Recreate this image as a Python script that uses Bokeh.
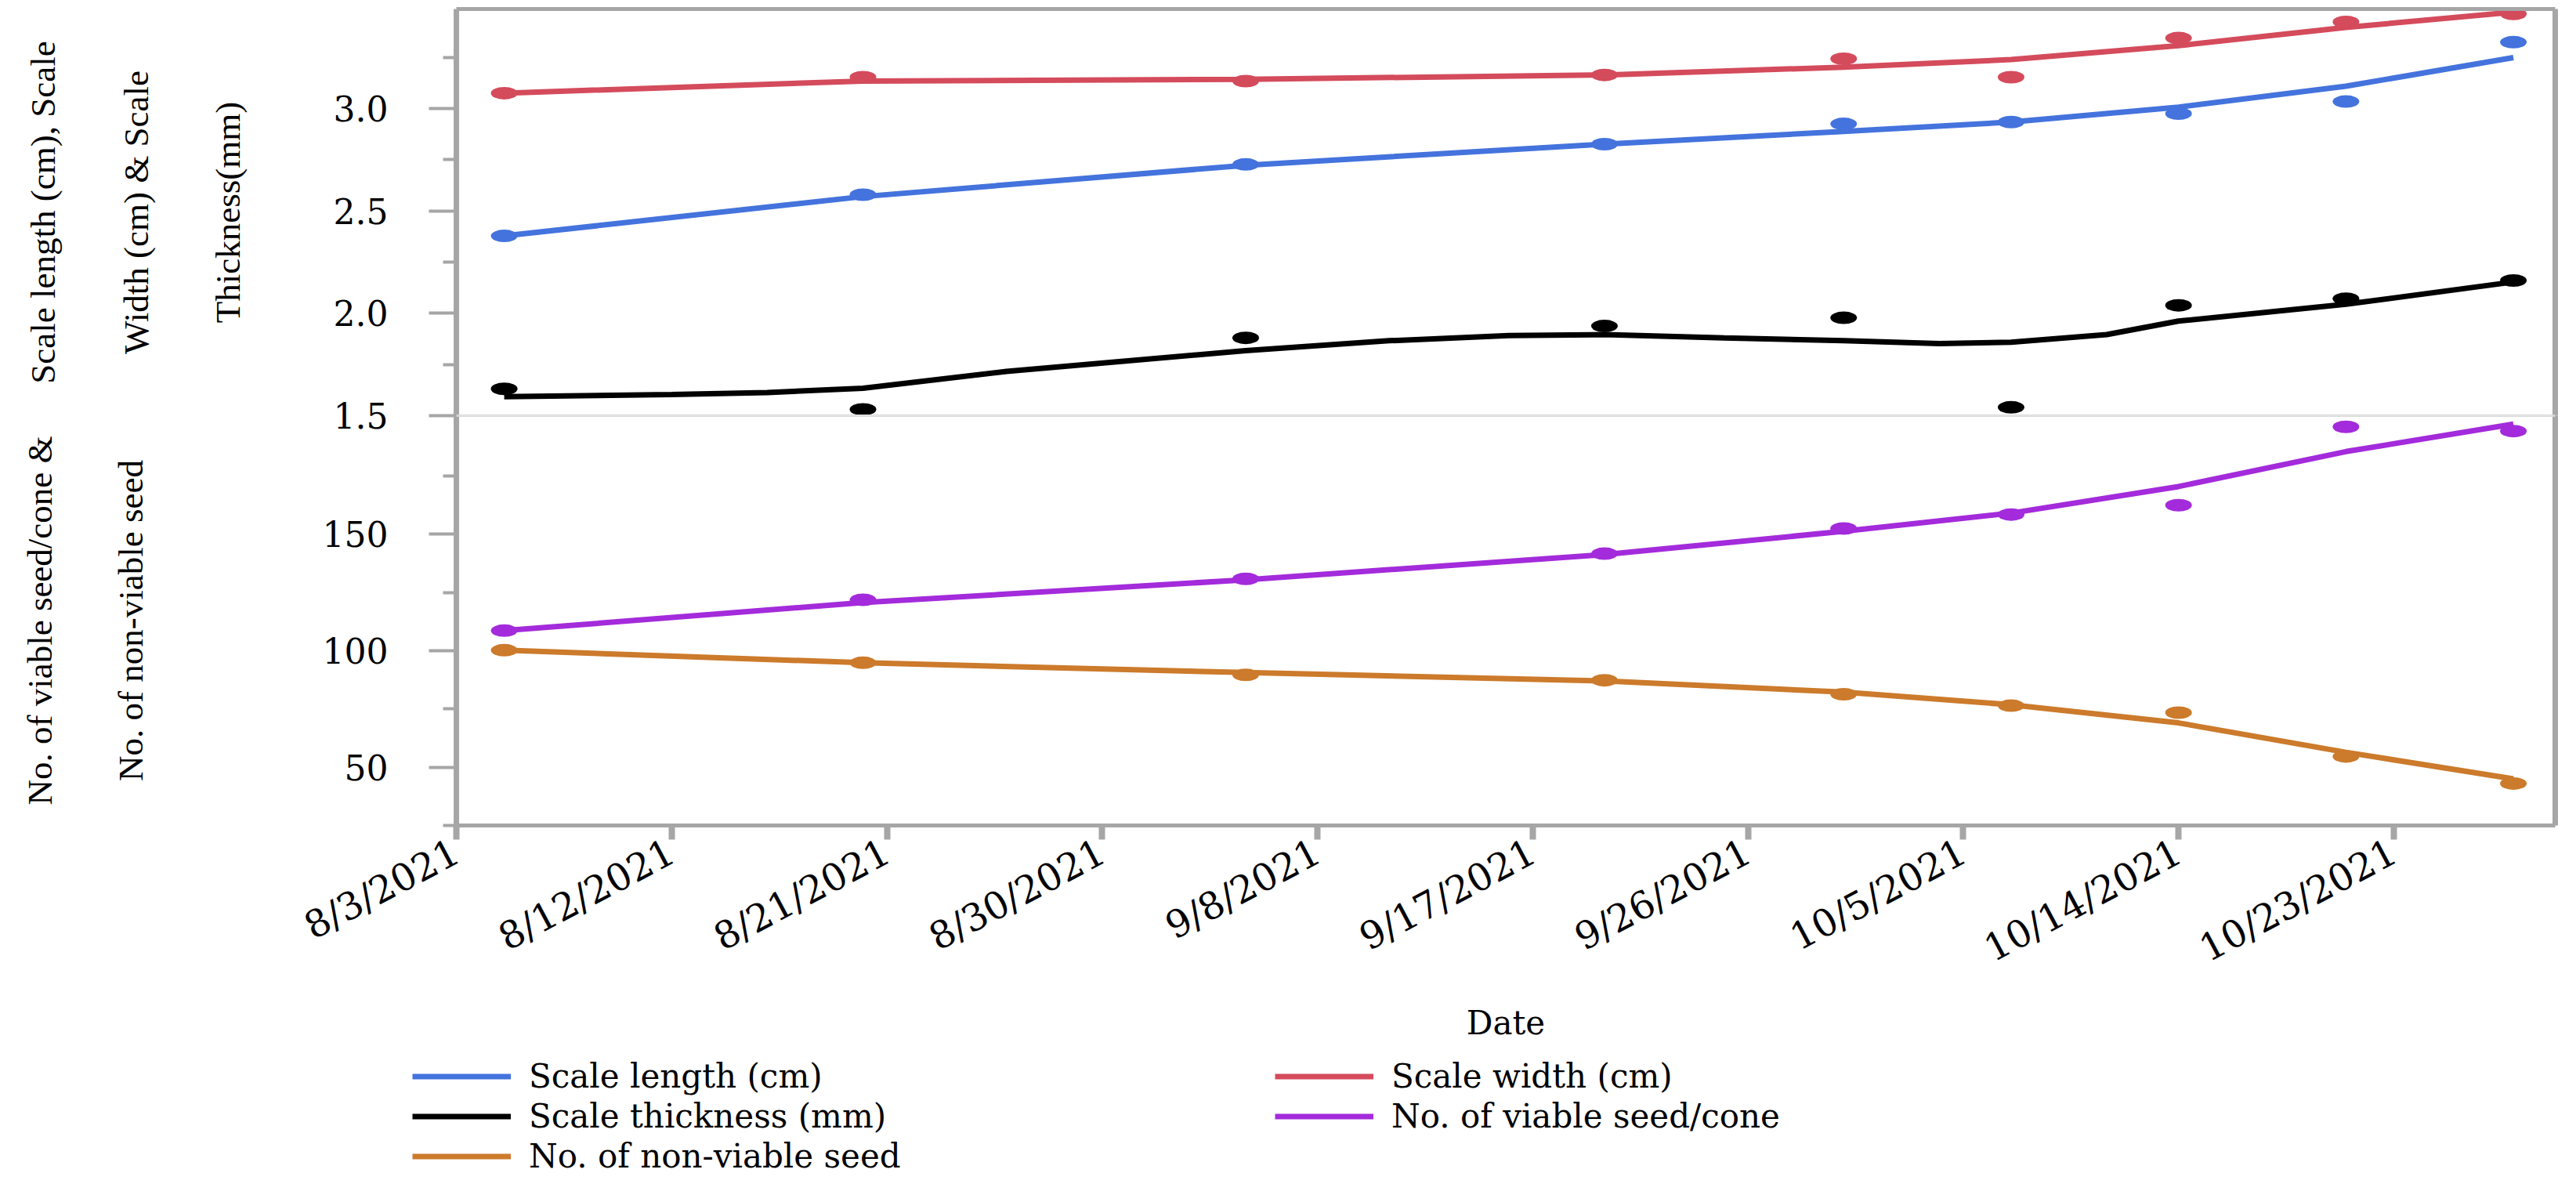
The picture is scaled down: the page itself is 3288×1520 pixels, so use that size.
import math
from datetime import datetime

from bokeh.plotting import figure
from bokeh.models import (ColumnDataSource, Range1d, FixedTicker, Span, Legend,
                          LegendItem, NumeralTickFormatter, LinearAxis, DatetimeAxis)
from bokeh.layouts import column
from bokeh.embed import file_html
from bokeh.resources import INLINE

# ------------------------------------------------------------------ data
point_dates = ["2021-08-05", "2021-08-20", "2021-09-05", "2021-09-20", "2021-09-30",
               "2021-10-07", "2021-10-14", "2021-10-21", "2021-10-28"]
scale_length = [2.378, 2.579, 2.727, 2.826, 2.925, 2.934, 2.975, 3.034, 3.324]
scale_width = [3.075, 3.153, 3.134, 3.164, 3.243, 3.153, 3.344, 3.423, 3.462]
scale_thickness = [1.631, 1.531, 1.880, 1.938, 1.978, 1.541, 2.039, 2.071, 2.160]
viable_seed = [108.6, 121.8, 130.8, 141.6, 152.4, 158.4, 162.4, 196.0, 194.2]
nonviable_seed = [100.2, 94.8, 89.6, 87.3, 81.3, 76.4, 73.4, 54.6, 43.0]

# smoother curves
fit_dates = point_dates
length_fit = [2.378, 2.570, 2.723, 2.826, 2.888, 2.934, 3.007, 3.109, 3.249]
width_fit = [3.075, 3.134, 3.143, 3.164, 3.202, 3.239, 3.307, 3.396, 3.471]
viable_fit = [108.6, 120.6, 130.4, 141.2, 151.2, 159.0, 170.4, 185.4, 197.2]
nonviable_fit = [100.2, 94.8, 90.6, 87.0, 82.2, 76.8, 69.0, 56.4, 45.0]
thickness_fit_dates = ["2021-08-05", "2021-08-12", "2021-08-16", "2021-08-20", "2021-08-26",
                       "2021-09-05", "2021-09-11", "2021-09-16", "2021-09-20", "2021-09-25",
                       "2021-09-30", "2021-10-04", "2021-10-07", "2021-10-11", "2021-10-14",
                       "2021-10-21", "2021-10-28"]
thickness_fit = [1.593, 1.603, 1.613, 1.634, 1.716, 1.818, 1.866, 1.891, 1.896, 1.880,
                 1.866, 1.852, 1.859, 1.896, 1.962, 2.044, 2.153]

x_tick_dates = ["2021-08-03", "2021-08-12", "2021-08-21", "2021-08-30", "2021-09-08",
                "2021-09-17", "2021-09-26", "2021-10-05", "2021-10-14", "2021-10-23"]
x_tick_labels = ["8/3/2021", "8/12/2021", "8/21/2021", "8/30/2021", "9/8/2021",
                 "9/17/2021", "9/26/2021", "10/5/2021", "10/14/2021", "10/23/2021"]
x_start = "2021-08-03T00:00"
x_end = "2021-10-29T18:00"

top_ticks = [1.5, 2.0, 2.5, 3.0]
top_minor = [1.75, 2.25, 2.75, 3.25]
top_limits = (1.5, 3.486)
bottom_ticks = [50, 100, 150]
bottom_minor = [25, 75, 125, 175]
bottom_limits = (25, 200.8)

top_title_lines = ["Scale length (cm), Scale", "Width (cm) & Scale", "Thickness(mm)"]
bottom_title_lines = ["No. of viable seed/cone &", "No. of non-viable seed"]
x_title = "Date"
series_names = ["Scale length (cm)", "Scale width (cm)", "Scale thickness (mm)",
                "No. of viable seed/cone", "No. of non-viable seed"]

# ------------------------------------------------------------------ style
BLUE, RED, BLACK, PURPLE, ORANGE = "#4473DD", "#D44B5C", "#000000", "#A32BDB", "#CC7A2B"
GRAY = "#A6A6A6"
DIVIDER = "#D9D9D9"
SERIF = "Liberation Serif"
WIDE = "DejaVu Serif"
PAGE_W = 3272
FRAME_W = 2679
LEFT = 582
RIGHT = PAGE_W - LEFT - FRAME_W
LW = 7
OVERLAP = 28


def ms(s):
    return (datetime.fromisoformat(s) - datetime(1970, 1, 1)).total_seconds() * 1000.0


pts = ColumnDataSource(dict(x=[ms(d) for d in point_dates], length=scale_length,
                            width=scale_width, thick=scale_thickness,
                            viable=viable_seed, nonviable=nonviable_seed))
fits = ColumnDataSource(dict(x=[ms(d) for d in fit_dates], length=length_fit,
                             width=width_fit, viable=viable_fit, nonviable=nonviable_fit))
thick_src = ColumnDataSource(dict(x=[ms(d) for d in thickness_fit_dates], thick=thickness_fit))

xr = Range1d(ms(x_start), ms(x_end))


def style_y(ax, title, ticks, minor, fmt, title_standoff):
    ax.ticker = FixedTicker(ticks=ticks, minor_ticks=minor)
    ax.formatter = NumeralTickFormatter(format=fmt)
    ax.axis_line_color = GRAY
    ax.axis_line_width = 7
    ax.major_tick_line_color = GRAY
    ax.major_tick_line_width = 4
    ax.minor_tick_line_color = GRAY
    ax.minor_tick_line_width = 4
    ax.major_tick_in = 0
    ax.major_tick_out = 35
    ax.minor_tick_in = 0
    ax.minor_tick_out = 17
    ax.major_label_standoff = 52
    ax.major_label_text_font = WIDE
    ax.major_label_text_font_size = "44px"
    ax.major_label_text_color = "black"
    ax.axis_label = title
    ax.axis_label_text_font = SERIF
    ax.axis_label_text_font_size = "45px"
    ax.axis_label_text_font_style = "normal"
    ax.axis_label_text_color = "black"
    ax.axis_label_standoff = title_standoff


def bare_axis(cls=LinearAxis, label=None, standoff=0, line_width=0):
    ax = cls(major_label_text_color=None, major_tick_line_color=None,
             minor_tick_line_color=None, major_tick_out=0, minor_tick_out=0,
             major_tick_in=0, minor_tick_in=0, major_label_standoff=0,
             axis_line_color=(GRAY if line_width else None), axis_line_width=max(line_width, 1))
    if label:
        ax.axis_label = label
        ax.axis_label_standoff = standoff
        ax.axis_label_text_font = SERIF
        ax.axis_label_text_font_size = "45px"
        ax.axis_label_text_font_style = "normal"
        ax.axis_label_text_color = "black"
    return ax


def base_fig(y_limits, frame_h, top_border, bottom_border, x_axis):
    p = figure(x_range=xr, y_range=Range1d(*y_limits), x_axis_type="datetime",
               x_axis_location=("below" if x_axis else None),
               frame_width=FRAME_W, frame_height=frame_h,
               min_border_left=LEFT, min_border_right=RIGHT,
               min_border_top=top_border, min_border_bottom=bottom_border,
               output_backend="svg", toolbar_location=None,
               background_fill_color="white", border_fill_color="white",
               outline_line_color=None)
    p.grid.grid_line_color = None
    p.add_layout(bare_axis(line_width=7), "right")
    return p


# ------------------------------------------------------------------ top panel
top = base_fig(top_limits, 519, 11, OVERLAP, False)
top.margin = (0, 0, -OVERLAP, 0)
style_y(top.yaxis[0], top_title_lines[2], top_ticks, top_minor, "0.0", 107)
top.add_layout(bare_axis(label=top_title_lines[1], standoff=64), "left")
top.add_layout(bare_axis(label=top_title_lines[0], standoff=66), "left")
top.add_layout(bare_axis(cls=DatetimeAxis, line_width=5), "above")
top.add_layout(Span(location=top_limits[0], dimension="width", line_color=DIVIDER, line_width=3))

r_len = top.line("x", "length", source=fits, line_color=BLUE, line_width=LW)
r_wid = top.line("x", "width", source=fits, line_color=RED, line_width=LW)
r_thk = top.line("x", "thick", source=thick_src, line_color=BLACK, line_width=LW)
for col, c in (("length", BLUE), ("width", RED), ("thick", BLACK)):
    top.ellipse("x", col, source=pts, width=34, height=16, width_units="screen",
                height_units="screen", fill_color=c, line_color=None)

# ------------------------------------------------------------------ bottom panel
bot = base_fig(bottom_limits, 523, 0, 285, True)
bot.border_fill_alpha = 0
style_y(bot.yaxis[0], bottom_title_lines[1], bottom_ticks, bottom_minor, "0", 217)
bot.add_layout(bare_axis(label=bottom_title_lines[0], standoff=63), "left")
bot.add_layout(Span(location=bottom_limits[1], dimension="width", line_color=DIVIDER, line_width=3))

r_via = bot.line("x", "viable", source=fits, line_color=PURPLE, line_width=LW)
r_non = bot.line("x", "nonviable", source=fits, line_color=ORANGE, line_width=LW)
for col, c in (("viable", PURPLE), ("nonviable", ORANGE)):
    bot.ellipse("x", col, source=pts, width=34, height=16, width_units="screen",
                height_units="screen", fill_color=c, line_color=None)

xa = bot.xaxis[0]
xa.ticker = FixedTicker(ticks=[ms(d) for d in x_tick_dates], minor_ticks=[])
xa.major_label_overrides = {ms(d): lab for d, lab in zip(x_tick_dates, x_tick_labels)}
xa.axis_line_color = GRAY
xa.axis_line_width = 5
xa.major_tick_line_color = GRAY
xa.major_tick_line_width = 8
xa.major_tick_in = 0
xa.major_tick_out = 18
xa.major_label_orientation = math.radians(28)
xa.major_label_text_font = WIDE
xa.major_label_text_font_size = "48px"
xa.major_label_text_color = "black"
xa.major_label_standoff = 12
xa.axis_label = x_title
xa.axis_label_text_font = WIDE
xa.axis_label_text_font_size = "42px"
xa.axis_label_text_font_style = "normal"
xa.axis_label_text_color = "black"
xa.axis_label_standoff = 15

# ------------------------------------------------------------------ legend strip
LEG_H = 166
leg = figure(width=PAGE_W, height=LEG_H, x_range=Range1d(0, 1), y_range=Range1d(0, 1),
             x_axis_location=None, y_axis_location=None, min_border=0,
             output_backend="svg", toolbar_location=None, outline_line_color=None,
             background_fill_color="white", border_fill_color="white")
leg.grid.grid_line_color = None
colors = [BLUE, RED, BLACK, PURPLE, ORANGE]
offscreen = [-3.0, -2.0]   # swatch-only renderers, kept outside the strip's ranges
proxies = [leg.line(offscreen, offscreen, line_color=c, line_width=LW) for c in colors]
legend = Legend(items=[LegendItem(label=n, renderers=[r]) for n, r in zip(series_names, proxies)],
                location=(526, 3), orientation="horizontal", ncols=2,
                glyph_width=126, glyph_height=51, label_height=51, label_width=952,
                label_standoff=23, spacing=0, padding=0, margin=0,
                border_line_color=None, background_fill_alpha=0,
                label_text_font=WIDE, label_text_font_size="42px",
                label_text_color="black")
leg.add_layout(legend)

layout = column(column(top, bot, spacing=0), leg, spacing=0)
open("out.html", "w").write(file_html(layout, INLINE))
